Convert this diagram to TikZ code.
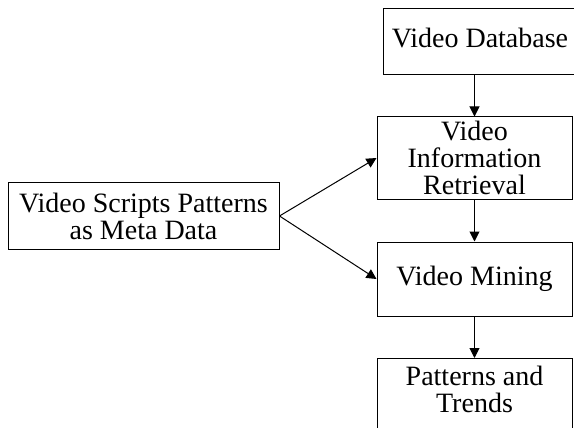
\documentclass[tikz,border=0pt]{standalone}
\usepackage{fontspec}
\setmainfont{Liberation Serif}
\usetikzlibrary{arrows.meta}
\begin{document}
\begin{tikzpicture}[x=1pt,y=-1pt,
  box/.style={draw=black, line width=1pt, inner sep=0pt, align=center,
    font=\fontsize{28}{27}\selectfont},
  label/.style={inner sep=0pt, align=center, font=\fontsize{28}{27}\selectfont},
  flow/.style={draw=black, line width=1pt, -{Triangle[length=10pt,width=10pt]}}]
  \useasboundingbox (0,0) rectangle (574,428);

  % right-hand column of process boxes
  \node[box, minimum width=194pt, minimum height=66pt, text depth=8pt] (db) at (480,42) {Video Database};
  \node[box, minimum width=195pt, minimum height=82pt] (ret) at (474.5,158)
    {Video\\Information\\Retrieval};
  \node[box, minimum width=195pt, minimum height=74pt] (mine) at (474.5,279) {Video Mining};
  \node[box, minimum width=195pt, minimum height=84pt, anchor=north] (pat) at (474.5,358) {};
  \node[label] (patlbl) at (474.5,389) {Patterns and\\Trends};

  % metadata source on the left
  \node[box, minimum width=271pt, minimum height=66pt] (meta) at (143.5,216)
    {Video Scripts Patterns\\as Meta Data};

  % connectors
  \draw[flow] (db.south -| ret.north) -- (ret.north);
  \draw[flow] (ret.south) -- (mine.north);
  \draw[flow] (mine.south) -- (pat.north);
  \draw[flow] (meta.east) -- (ret.west);
  \draw[flow] (meta.east) -- (mine.west);
\end{tikzpicture}
\end{document}
